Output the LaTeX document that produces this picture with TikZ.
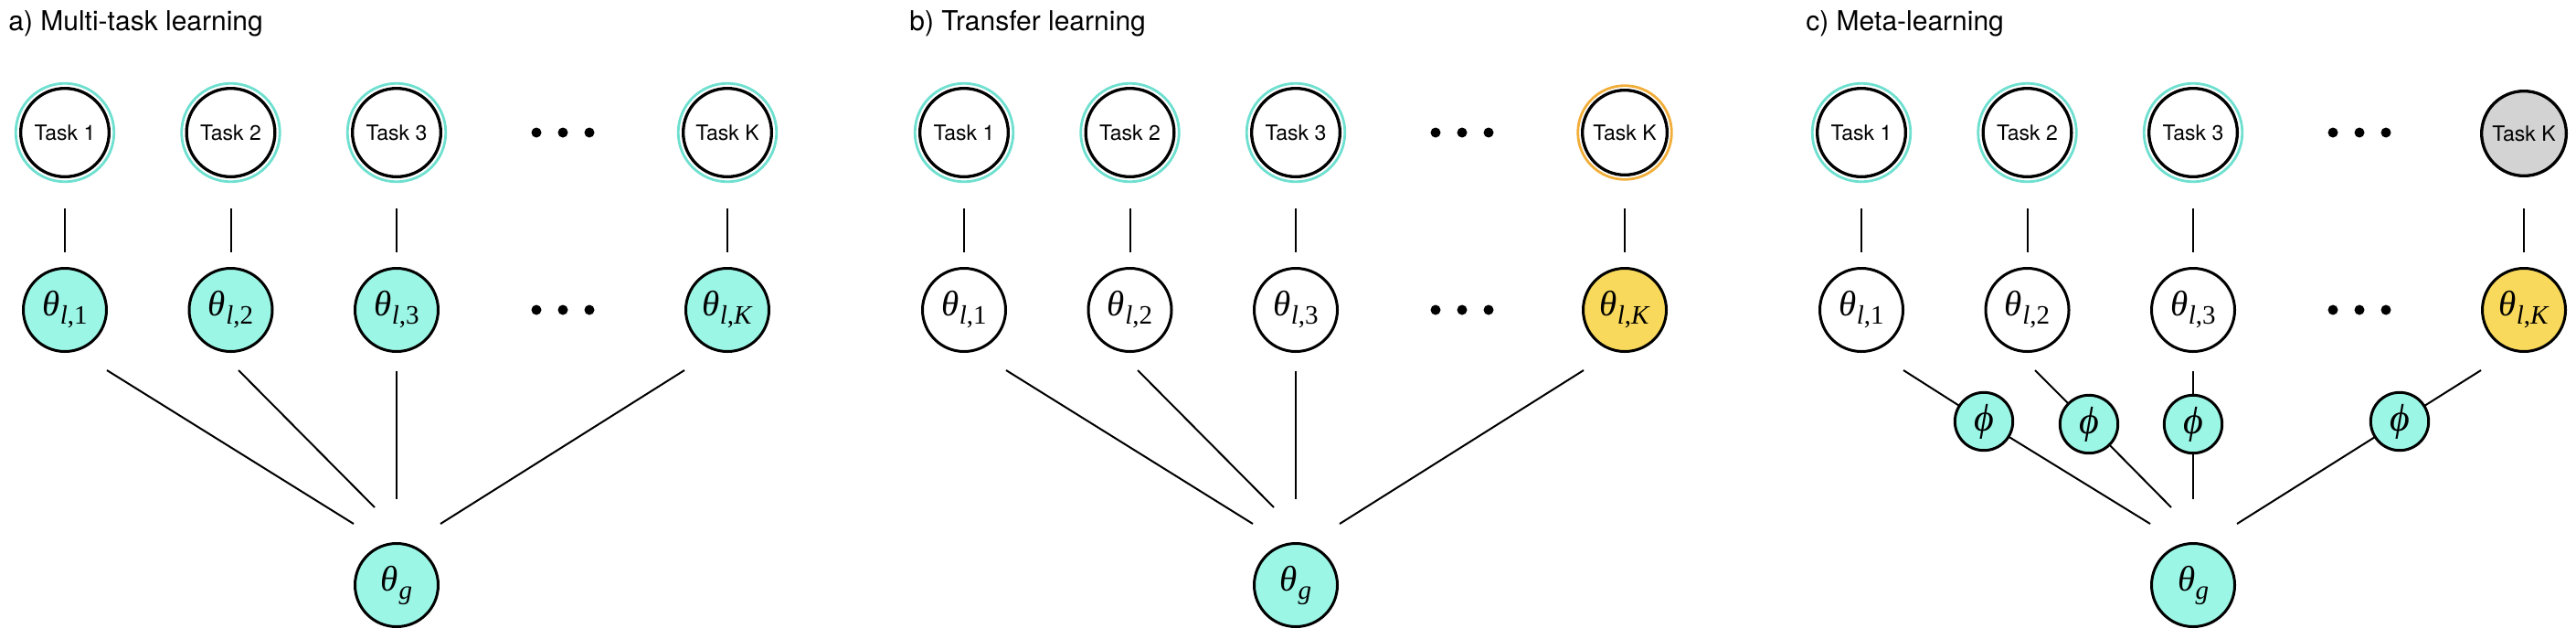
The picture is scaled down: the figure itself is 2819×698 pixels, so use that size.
\documentclass[tikz,border=0pt]{standalone}
\usepackage{fontspec}
\setmainfont{TeX Gyre Heros}
\newfontfamily\tms{Liberation Serif}
\usetikzlibrary{calc}
\definecolor{tealfill}{HTML}{9CF6E6}
\definecolor{tealring}{HTML}{6FE0D0}
\definecolor{orangering}{HTML}{F1AE3A}
\definecolor{yellowfill}{HTML}{F8D95B}
\definecolor{grayfill}{HTML}{D3D3D3}
\newcommand\thsub[1]{{\tms\itshape θ}\kern0.2pt\raisebox{-4.5pt}{\fontsize{14.5}{15}\selectfont\tms #1}}
\newcommand\phisym{{\tms\itshape ϕ}}
\tikzset{
  task/.style={circle, draw=black, line width=1.65pt, minimum size=48.35pt, inner sep=0pt, outer sep=0pt, fill=white, font=\fontsize{11.5}{13}\selectfont},
  taskS/.style={task, minimum size=46.35pt},
  param/.style={circle, draw=black, line width=1.5pt, minimum size=45.5pt, inner sep=0pt, outer sep=0pt, fill=white, font=\fontsize{19.5}{22}\selectfont},
  teal/.style={fill=tealfill},
  yel/.style={fill=yellowfill},
  phinode/.style={param, fill=tealfill, minimum size=31.7pt, font=\fontsize{21}{24}\selectfont},
  conn/.style={line width=1pt},
  vconn/.style={line width=1pt, shorten <=17.3pt, shorten >=8.75pt},
  ringT/.style={draw=tealring, line width=1.4pt},
  ringO/.style={draw=orangering, line width=1.4pt},
  title/.style={anchor=base west, inner sep=0pt, font=\fontsize{15}{18}\selectfont},
  dotmark/.style={fill=black},
}
\begin{document}
\begin{tikzpicture}[x=0.5pt, y=-0.5pt]
\useasboundingbox (0,0) rectangle (2819,698);

% ---------------- panel a ----------------
\node[title] (a-title) at (9,33) {a) Multi-task learning};
\begin{scope}[shift={(0,0)}]
  \node[task] (a-t1) at (71,145) {Task 1};
  \node[task] (a-t2) at (252.5,145) {Task 2};
  \node[task] (a-t3) at (434,145) {Task 3};
  \node[task] (a-tK) at (796,145) {Task K};
  \foreach \n in {a-t1,a-t2,a-t3,a-tK} \draw[ringT] (\n) circle (26.9pt);
  \node[param,teal] (a-l1) at (71,339) {\thsub{\textit{l},1}};
  \node[param,teal] (a-l2) at (252.5,339) {\thsub{\textit{l},2}};
  \node[param,teal] (a-l3) at (434,339) {\thsub{\textit{l},3}};
  \node[param,teal] (a-lK) at (796,339) {\thsub{\textit{l},\textit{K}}};
  \node[param,teal] (a-g) at (434,640) {\thsub{\textit{g}}};
  \foreach \x in {587,616,645} {\fill[dotmark] (\x,145) circle (2.75pt); \fill[dotmark] (\x,339) circle (2.75pt);}
  \draw[vconn] (a-t1) -- (a-l1);
  \draw[vconn] (a-t2) -- (a-l2);
  \draw[vconn] (a-t3) -- (a-l3);
  \draw[vconn] (a-tK) -- (a-lK);
  \draw[conn] ($(a-l1)+(46,66)$) -- ($(a-g)+(-47,-67)$);
  \draw[conn] ($(a-l2)+(8.5,66)$) -- ($(a-g)+(-24,-85)$);
  \draw[conn] ($(a-l3)+(0,67)$) -- ($(a-g)+(0,-94)$);
  \draw[conn] ($(a-lK)+(-47,66)$) -- ($(a-g)+(48,-67)$);
\end{scope}

% ---------------- panel b ----------------
\node[title] (b-title) at (995,33) {b) Transfer learning};
\begin{scope}[shift={(984,0)}]
  \node[task] (b-t1) at (71,145) {Task 1};
  \node[task] (b-t2) at (252.5,145) {Task 2};
  \node[task] (b-t3) at (434,145) {Task 3};
  \node[taskS] (b-tK) at (794,145) {Task K};
  \foreach \n in {b-t1,b-t2,b-t3} \draw[ringT] (\n) circle (26.9pt);
  \draw[ringO] (b-tK) circle (25.65pt);
  \node[param] (b-l1) at (71,339) {\thsub{\textit{l},1}};
  \node[param] (b-l2) at (252.5,339) {\thsub{\textit{l},2}};
  \node[param] (b-l3) at (434,339) {\thsub{\textit{l},3}};
  \node[param,yel] (b-lK) at (794,339) {\thsub{\textit{l},\textit{K}}};
  \node[param,teal] (b-g) at (434,640) {\thsub{\textit{g}}};
  \foreach \x in {587,616,645} {\fill[dotmark] (\x,145) circle (2.75pt); \fill[dotmark] (\x,339) circle (2.75pt);}
  \draw[vconn] (b-t1) -- (b-l1);
  \draw[vconn] (b-t2) -- (b-l2);
  \draw[vconn] (b-t3) -- (b-l3);
  \draw[vconn, shorten <=18.3pt] (b-tK) -- (b-lK);
  \draw[conn] ($(b-l1)+(46,66)$) -- ($(b-g)+(-47,-67)$);
  \draw[conn] ($(b-l2)+(8.5,66)$) -- ($(b-g)+(-24,-85)$);
  \draw[conn] ($(b-l3)+(0,67)$) -- ($(b-g)+(0,-94)$);
  \draw[conn] ($(b-lK)+(-45,66)$) -- ($(b-g)+(48,-67)$);
\end{scope}

% ---------------- panel c ----------------
\node[title] (c-title) at (1976,33) {c) Meta-learning};
\begin{scope}[shift={(1966,0)}]
  \node[task] (c-t1) at (71,145) {Task 1};
  \node[task] (c-t2) at (252.5,145) {Task 2};
  \node[task] (c-t3) at (434,145) {Task 3};
  \node[taskS, fill=grayfill] (c-tK) at (796,146) {Task K};
  \foreach \n in {c-t1,c-t2,c-t3} \draw[ringT] (\n) circle (26.9pt);
  \node[param] (c-l1) at (71,339) {\thsub{\textit{l},1}};
  \node[param] (c-l2) at (252.5,339) {\thsub{\textit{l},2}};
  \node[param] (c-l3) at (434,339) {\thsub{\textit{l},3}};
  \node[param,yel] (c-lK) at (796,339) {\thsub{\textit{l},\textit{K}}};
  \node[param,teal] (c-g) at (434,640) {\thsub{\textit{g}}};
  \node[phinode] (c-p1) at (205,461) {\phisym};
  \node[phinode] (c-p2) at (320,464) {\phisym};
  \node[phinode] (c-p3) at (434,464) {\phisym};
  \node[phinode] (c-p4) at (660,461) {\phisym};
  \foreach \x in {587,616,645} {\fill[dotmark] (\x,145) circle (2.75pt); \fill[dotmark] (\x,339) circle (2.75pt);}
  \draw[vconn] (c-t1) -- (c-l1);
  \draw[vconn] (c-t2) -- (c-l2);
  \draw[vconn] (c-t3) -- (c-l3);
  \draw[vconn, shorten <=17.8pt] (c-tK) -- (c-lK);
  \draw[conn] ($(c-l1)+(46,66)$) -- (c-p1);
  \draw[conn] (c-p1) -- ($(c-g)+(-47,-67)$);
  \draw[conn] ($(c-l2)+(8.5,66)$) -- (c-p2);
  \draw[conn] (c-p2) -- ($(c-g)+(-24,-85)$);
  \draw[conn] ($(c-l3)+(0,67)$) -- (c-p3);
  \draw[conn] (c-p3) -- ($(c-g)+(0,-94)$);
  \draw[conn] ($(c-lK)+(-47,66)$) -- (c-p4);
  \draw[conn] (c-p4) -- ($(c-g)+(48,-67)$);
\end{scope}
\end{tikzpicture}
\end{document}
